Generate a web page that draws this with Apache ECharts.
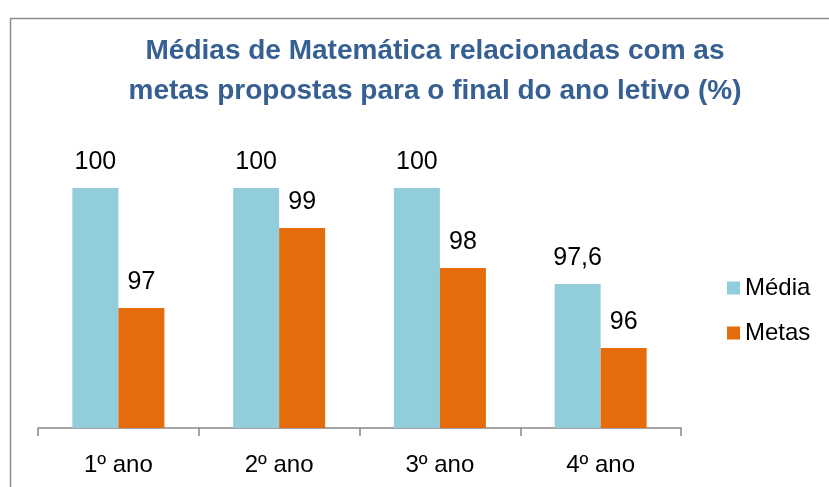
<!DOCTYPE html>
<html><head><meta charset="utf-8">
<script src="https://cdn.jsdelivr.net/npm/echarts@6/dist/echarts.min.js"></script>
<style>html,body{margin:0;padding:0;background:#fff}#c{width:829px;height:487px}</style>
</head><body><div id="c"></div>
<script>
const categories = ['1º ano', '2º ano', '3º ano', '4º ano'];
const media = [100, 100, 100, 97.6];
const metas = [97, 99, 98, 96];
const seriesNames = ['Média', 'Metas'];
const fmt = p => String(p.value).replace('.', ',');
const font = 'Liberation Sans';
const chart = echarts.init(document.getElementById('c'));
chart.setOption({
  animation: false,
  graphic: [{type: 'rect', left: 8, top: 16, shape: {width: 900, height: 600},
    style: {fill: 'none', stroke: '#8c8c8c', lineWidth: 1.5}, silent: true}],
  title: {
    text: 'Médias de Matemática relacionadas com as\nmetas propostas para o final do ano letivo (%)',
    left: 430, top: 26, textAlign: 'center',
    textStyle: {color: '#376092', fontSize: 28, fontWeight: 'bold', fontFamily: font, lineHeight: 40}
  },
  legend: {
    orient: 'vertical', left: 722, top: 271, itemWidth: 13, itemHeight: 13, itemGap: 21,
    icon: 'rect',
    textStyle: {fontSize: 24, fontFamily: font, color: '#000'},
    data: seriesNames
  },
  grid: {left: 38, right: 148, top: 188, bottom: 59},
  xAxis: {
    type: 'category', data: categories,
    axisLine: {lineStyle: {color: '#868686', width: 1.5}},
    axisTick: {show: true, length: 8, lineStyle: {color: '#868686', width: 1.5}},
    axisLabel: {fontSize: 24, fontFamily: font, color: '#000', margin: 25}
  },
  yAxis: {type: 'value', min: 94, max: 100, show: false, splitLine: {show: false}},
  series: [
    {name: seriesNames[0], type: 'bar', data: media, barWidth: 46, barGap: '0%',
     itemStyle: {color: '#92CDDC'},
     label: {show: true, position: 'top', distance: 13, fontSize: 25, fontFamily: font, color: '#000', formatter: fmt}},
    {name: seriesNames[1], type: 'bar', data: metas, barWidth: 46, barGap: '0%',
     itemStyle: {color: '#E46C0A'},
     label: {show: true, position: 'top', distance: 13, fontSize: 25, fontFamily: font, color: '#000', formatter: fmt}}
  ]
});
</script></body></html>
